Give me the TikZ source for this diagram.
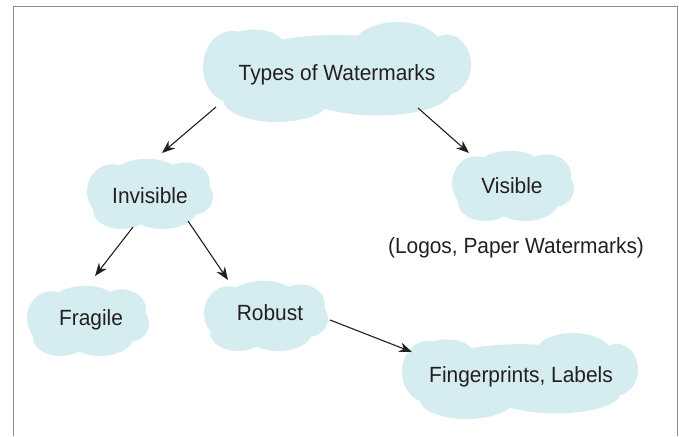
\documentclass[tikz,border=0pt]{standalone}
\usepackage{fontspec}
\setmainfont{Liberation Sans}[FakeStretch=0.95]
\usetikzlibrary{arrows.meta}
\definecolor{cloudc}{RGB}{213,237,241}
\definecolor{ink}{RGB}{35,31,32}
\definecolor{framec}{RGB}{142,138,163}
\newcommand\smallcloud[3]{%
 \begin{scope}[shift={#1},x=#2pt,y=#3pt]
 \fill[cloudc] (-0.05,0.35) ellipse (0.6 and 0.6)
  (0.55,0.3) ellipse (0.4 and 0.55)
  (-0.6,0.05) ellipse (0.4 and 0.75)
  (-0.45,-0.5) ellipse (0.45 and 0.5)
  (0.2,-0.45) ellipse (0.55 and 0.55)
  (0.7,-0.1) ellipse (0.3 and 0.5)
  (0,0) ellipse (0.8 and 0.72);
 \end{scope}}
\newcommand\widecloud[3]{%
 \begin{scope}[shift={#1},x=#2pt,y=#3pt]
 \fill[cloudc] (0,0) ellipse (0.86 and 0.74)
  (-0.78,0.1) ellipse (0.22 and 0.72)
  (-0.62,0.55) ellipse (0.22 and 0.3)
  (0.45,0.5) ellipse (0.33 and 0.5)
  (0.82,0.15) ellipse (0.18 and 0.6)
  (-0.45,-0.55) ellipse (0.4 and 0.45)
  (0.3,-0.4) ellipse (0.55 and 0.47);
 \end{scope}}
\tikzset{
 lbl/.style={font=\fontsize{22}{26}\selectfont, text=ink, inner sep=0pt},
 arr/.style={draw=ink, line width=1.1pt, -{Stealth[length=13pt,width=10pt]}},
}
\begin{document}
\begin{tikzpicture}[x=1pt,y=-1pt]
\useasboundingbox (0,0) rectangle (679,436);
\draw[framec, line width=1.5pt] (13.5,436) -- (13.5,6.5) -- (677.5,6.5) -- (677.5,436);
% clouds
\widecloud{(337,72)}{134}{50}
\smallcloud{(150,193)}{63}{36}
\smallcloud{(513,185)}{61}{36}
\smallcloud{(88,320)}{61}{36}
\smallcloud{(266,315)}{62}{36}
\widecloud{(520,376)}{118}{43}
% labels
\node[lbl] (types) at (337,75) {Types of Watermarks};
\node[lbl] (inv) at (150,196) {Invisible};
\node[lbl] (vis) at (512,186) {Visible};
\node[lbl] (logos) at (516,248) {(Logos, Paper Watermarks)};
\node[lbl] (frag) at (91,320) {Fragile};
\node[lbl] (rob) at (270,313) {Robust};
\node[lbl] (fing) at (521,377) {Fingerprints, Labels};
% connectors
\draw[arr] ([shift={(-121,32)}]types.center) -- ([shift={(12,-43)}]inv.center);
\draw[arr] ([shift={(81,33)}]types.center) -- ([shift={(-43,-33)}]vis.center);
\draw[arr] ([shift={(-17,31)}]inv.center) -- ([shift={(4,-44)}]frag.center);
\draw[arr] ([shift={(38,25)}]inv.center) -- ([shift={(-42,-33)}]rob.center);
\draw[arr] ([shift={(60,7)}]rob.center) -- ([shift={(-109,-25)}]fing.center);
\end{tikzpicture}
\end{document}
